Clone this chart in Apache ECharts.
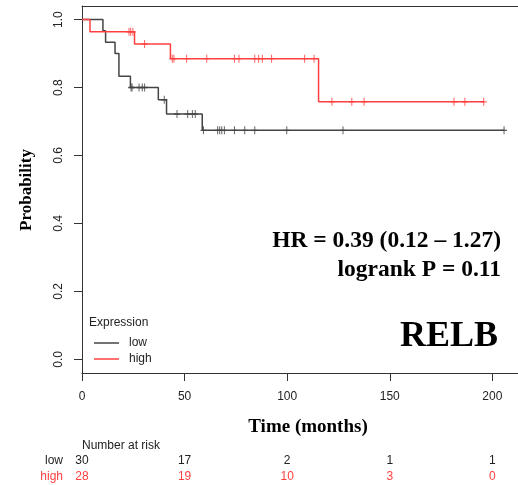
<!DOCTYPE html>
<html>
<head>
<meta charset="utf-8">
<script src="https://cdn.jsdelivr.net/npm/echarts@6/dist/echarts.min.js"></script>
<style>
  html, body { margin: 0; padding: 0; background: #fff; }
  #main { width: 518px; height: 485px; }
</style>
</head>
<body>
<div id="main"></div>
<script>
// Kaplan-Meier steps (months, survival probability)
const lowTime = [0, 10.2, 11.5, 16.1, 18.0, 23.6, 37.2, 41.2, 58.6, 206];
const lowSurv = [1, 0.967, 0.933, 0.9, 0.833, 0.8, 0.764, 0.722, 0.674, 0.674];
const highTime = [0, 3.9, 25.6, 43.1, 115.3, 196];
const highSurv = [1, 0.964, 0.928, 0.885, 0.758, 0.758];

// censored times
const lowCens = [23.9, 24.4, 27.8, 29.4, 30.5, 40.1, 46.3, 51.5, 53.8, 55.2,
  59.2, 66.1, 67.1, 68.1, 69.4, 74.3, 79.3, 84.2, 99.8, 127.2, 205.7];
const highCens = [22.9, 23.7, 24.8, 30.5, 44.0, 44.8, 51.0, 60.8, 74.3, 76.5,
  84.2, 86.1, 87.9, 92.4, 108.5, 113.1, 121.8, 131.5, 137.5, 181.3, 186.6, 195.8];

// number at risk table
const riskTimes = [0, 50, 100, 150, 200];
const riskLow = [30, 17, 2, 1, 1];
const riskHigh = [28, 19, 10, 3, 0];

const xTicks = [0, 50, 100, 150, 200];
const yTicks = [0, 0.2, 0.4, 0.6, 0.8, 1.0];

const lowColor = "#444444";
const highColor = "#ff4040";
const axisColor = "#333333";

function steps(t, s) {
  return t.map((v, i) => [v, s[i]]);
}
// survival level of a step curve at time x
function levelAt(t, s, x) {
  let v = s[0];
  for (let i = 0; i < t.length; i++) {
    if (t[i] <= x) v = s[i];
  }
  return v;
}
function marks(cens, t, s) {
  return cens.map((c) => [c, levelAt(t, s, c)]);
}

const chart = echarts.init(document.getElementById("main"), null, { renderer: "canvas" });
const plus = "path://M5,0V10M0,5H10";
const serif = "'Liberation Serif', 'Times New Roman', serif";
const sans = "'Liberation Sans', Arial, sans-serif";

const option = {
  animation: false,
  grid: {
    left: 82,
    right: 0,
    top: 6,
    bottom: 112,
    show: false,
  },
  xAxis: [
    {
      type: "value",
      min: 0,
      max: 212.5,
      position: "bottom",
      splitLine: { show: false },
      axisLine: { show: true, onZero: false, lineStyle: { color: axisColor, width: 1 } },
      axisTick: { show: true, length: 8, customValues: xTicks, lineStyle: { color: axisColor } },
      axisLabel: {
        customValues: xTicks,
        margin: 18,
        color: "#222",
        fontSize: 12,
        fontFamily: sans,
      },
    },
    {
      // top frame line
      type: "value",
      min: 0,
      max: 212.5,
      position: "top",
      splitLine: { show: false },
      axisLine: { show: true, onZero: false, lineStyle: { color: axisColor, width: 1 } },
      axisTick: { show: false },
      axisLabel: { show: false },
    },
  ],
  yAxis: {
    type: "value",
    min: -0.04,
    max: 1.04,
    splitLine: { show: false },
    axisLine: { show: true, onZero: false, lineStyle: { color: axisColor, width: 1 } },
    axisTick: { show: true, length: 8, customValues: yTicks, lineStyle: { color: axisColor } },
    axisLabel: {
      customValues: yTicks,
      rotate: 90,
      margin: 17,
      color: "#222",
      fontSize: 12,
      fontFamily: sans,
      formatter: (v) => v.toFixed(1),
    },
  },
  legend: {
    data: [
      { name: "low", icon: "rect", itemStyle: { color: lowColor } },
      { name: "high", icon: "rect", itemStyle: { color: highColor } },
    ],
    orient: "vertical",
    left: 89,
    top: 332,
    itemWidth: 25,
    itemHeight: 1.5,
    itemGap: 4,
    selectedMode: false,
    textStyle: { fontSize: 12, fontFamily: sans, color: "#222", padding: [0, 0, 0, 5] },
  },
  series: [
    {
      name: "low",
      type: "line",
      step: "end",
      symbol: "none",
      lineStyle: { color: lowColor, width: 1.5 },
      itemStyle: { color: lowColor },
      data: steps(lowTime, lowSurv),
    },
    {
      name: "high",
      type: "line",
      step: "end",
      symbol: "none",
      lineStyle: { color: highColor, width: 1.5 },
      itemStyle: { color: highColor },
      data: steps(highTime, highSurv),
    },
    {
      name: "low-cens",
      type: "scatter",
      symbol: plus,
      symbolSize: [6, 8],
      itemStyle: { color: "none", borderColor: lowColor, borderWidth: 1.2 },
      data: marks(lowCens, lowTime, lowSurv),
      z: 3,
    },
    {
      name: "high-cens",
      type: "scatter",
      symbol: plus,
      symbolSize: [6, 8],
      itemStyle: { color: "none", borderColor: highColor, borderWidth: 1.2 },
      data: marks(highCens, highTime, highSurv),
      z: 3,
    },
  ],
};
chart.setOption(option);

// texts and number-at-risk table
const graphics = [
  {
    type: "text", x: 27, y: 190, rotation: Math.PI / 2,
    style: { text: "Probability", font: "bold 17px " + serif, fill: "#000", align: "center", verticalAlign: "middle" },
  },
  {
    type: "text", x: 308, y: 427,
    style: { text: "Time (months)", font: "bold 19px " + serif, fill: "#000", align: "center", verticalAlign: "middle" },
  },
  {
    type: "text", x: 501, y: 241,
    style: { text: "HR = 0.39 (0.12 \u2013 1.27)", font: "bold 23.5px " + serif, fill: "#000", align: "right", verticalAlign: "middle" },
  },
  {
    type: "text", x: 501, y: 270,
    style: { text: "logrank P = 0.11", font: "bold 23.5px " + serif, fill: "#000", align: "right", verticalAlign: "middle" },
  },
  {
    type: "text", x: 498, y: 337,
    style: { text: "RELB", font: "bold 36px " + serif, fill: "#000", align: "right", verticalAlign: "middle" },
  },
  {
    type: "text", x: 89, y: 323,
    style: { text: "Expression", font: "12px " + sans, fill: "#222", align: "left", verticalAlign: "middle" },
  },
  {
    type: "text", x: 82, y: 446,
    style: { text: "Number at risk", font: "12px " + sans, fill: "#222", align: "left", verticalAlign: "middle" },
  },
  {
    type: "text", x: 63, y: 461,
    style: { text: "low", font: "12px " + sans, fill: "#222", align: "right", verticalAlign: "middle" },
  },
  {
    type: "text", x: 63, y: 477,
    style: { text: "high", font: "12px " + sans, fill: highColor, align: "right", verticalAlign: "middle" },
  },
];
riskTimes.forEach((t, i) => {
  const px = chart.convertToPixel({ xAxisIndex: 0 }, t);
  graphics.push({
    type: "text", x: px, y: 461,
    style: { text: String(riskLow[i]), font: "12px " + sans, fill: "#222", align: "center", verticalAlign: "middle" },
  });
  graphics.push({
    type: "text", x: px, y: 477,
    style: { text: String(riskHigh[i]), font: "12px " + sans, fill: highColor, align: "center", verticalAlign: "middle" },
  });
});
chart.setOption({ graphic: graphics });
</script>
</body>
</html>
